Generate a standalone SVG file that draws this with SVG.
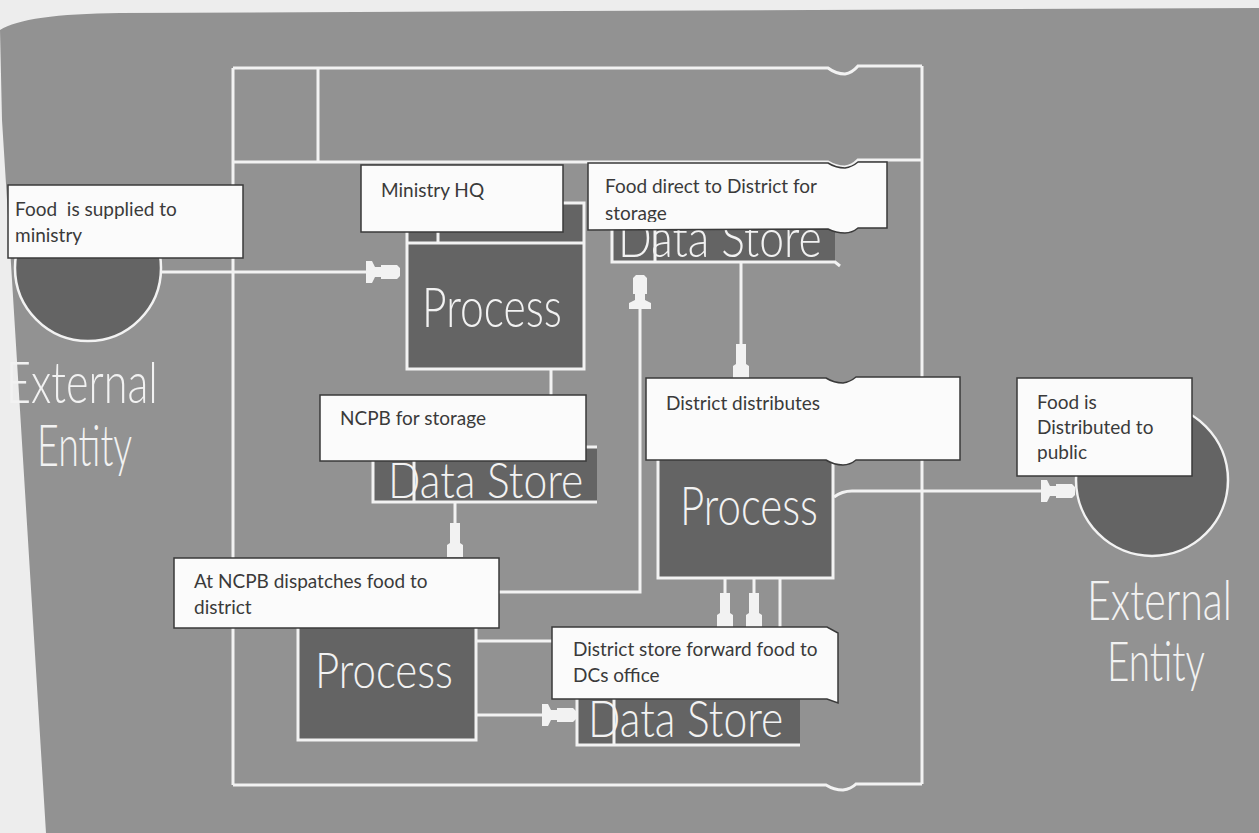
<svg xmlns="http://www.w3.org/2000/svg" width="1259" height="833" viewBox="0 0 1259 833">
<defs>
<style>
.ln{fill:none;stroke:#f2f2f2;stroke-width:3}
.dk{fill:#646464}
.wb{fill:none;stroke:#f2f2f2;stroke-width:3}
.big{font-family:Lato,"Liberation Sans",sans-serif;font-weight:300;fill:#f2f2f2}
.lb{fill:#fbfbfb;stroke:#3a3a3a;stroke-width:1.5}
.lt{font-family:Lato,"Open Sans",sans-serif;font-size:19px;fill:#3a3a3a;white-space:pre}
</style>
<marker id="aT" viewBox="-35 -12 36 24" markerWidth="36" markerHeight="24" refX="0" refY="0" orient="auto" markerUnits="userSpaceOnUse">
<path d="M0,-4 L-3,-7 L-19,-7 L-19,-5 L-25,-5 L-28,-11 L-34,-11 L-34,11 L-28,11 L-25,5 L-19,5 L-19,7 L-3,7 L0,4 Z" fill="#f2f2f2"/>
</marker>
<marker id="aH" viewBox="-35 -12 36 24" markerWidth="36" markerHeight="24" refX="0" refY="0" orient="auto" markerUnits="userSpaceOnUse">
<path d="M0,-8 L-12,-8 L-14,-5 L-34,-5 L-34,5 L-14,5 L-12,8 L0,8 Z" fill="#f2f2f2"/>
</marker>
<clipPath id="c3"><rect x="588" y="160" width="300" height="62"/></clipPath>
<clipPath id="cds1"><rect x="600" y="229" width="260" height="40"/></clipPath>
</defs>

<rect width="1259" height="833" fill="#ededed"/>
<path d="M0,30 Q25,14 120,13 L1259,8 L1259,833 L46,833 L12,280 L2,120 Z" fill="#929292"/>

<g id="frame" class="ln">
<path d="M233,68 H828 Q836,74 845,74 Q852,73 858,66 H922"/>
<path d="M233,162 H828 Q836,167 845,167 Q852,166 858,160 H922"/>
<path d="M233,785 H826 Q834,790 843,790 Q851,789 856,784 H922"/>
<path d="M233,68 V785"/>
<path d="M922,66 V784"/>
<path d="M318,68 V162"/>
</g>

<g id="connectors">
<path class="ln" d="M160,272 H400" marker-end="url(#aT)"/>
<path class="ln" d="M551,369 V395"/>
<path class="ln" d="M741,262 V378" marker-end="url(#aH)"/>
<path class="ln" d="M499,592 H640 V275" marker-end="url(#aT)"/>
<path class="ln" d="M455,502 V557" marker-end="url(#aH)"/>
<path class="ln" d="M476,641 H552"/>
<path class="ln" d="M476,715 H576" marker-end="url(#aT)"/>
<path class="ln" d="M725,578 V627" marker-end="url(#aH)"/>
<path class="ln" d="M754,578 V627" marker-end="url(#aH)"/>
<path class="ln" d="M780,578 V627"/>
<path class="ln" d="M834,497 Q842,491 852,491 H1075" marker-end="url(#aT)"/>
</g>

<g id="entity-left">
<circle cx="88" cy="268" r="73" class="dk" stroke="#f2f2f2" stroke-width="2.5"/>
<text class="big" transform="translate(6,403) scale(0.7,1)" font-size="57" textLength="217" lengthAdjust="spacingAndGlyphs">External</text>
<text class="big" transform="translate(37,466) scale(0.7,1)" font-size="57" textLength="136" lengthAdjust="spacingAndGlyphs">Entity</text>
</g>

<g id="entity-right">
<circle cx="1152" cy="480" r="76" class="dk" stroke="#f2f2f2" stroke-width="2.5"/>
<text class="big" transform="translate(1087,620) scale(0.7,1)" font-size="56" textLength="207" lengthAdjust="spacingAndGlyphs">External</text>
<text class="big" transform="translate(1107,681) scale(0.7,1)" font-size="55" textLength="140" lengthAdjust="spacingAndGlyphs">Entity</text>
</g>

<g id="process-ministry">
<rect class="dk" x="407" y="203" width="177" height="166"/>
<rect class="wb" x="407" y="203" width="177" height="166"/>
<path class="ln" d="M407,243 H584 M438,203 V243"/>
<text class="big" transform="translate(422,327) scale(0.7,1)" font-size="56" textLength="200" lengthAdjust="spacingAndGlyphs">Process</text>
</g>

<g id="store-district">
<rect class="dk" x="612" y="215" width="223" height="47"/>
<path class="ln" d="M612,215 V262 H835 L840,266 M655,215 V262"/>
<g clip-path="url(#cds1)">
<text class="big" transform="translate(618,257) scale(0.7,1)" font-size="54" textLength="291" lengthAdjust="spacingAndGlyphs">Data Store</text>
</g>
</g>

<g id="store-ncpb">
<rect class="dk" x="373" y="447" width="224" height="55"/>
<path class="ln" d="M597,447 H373 V502 H597 M414,447 V502"/>
<text class="big" transform="translate(388,498) scale(0.7,1)" font-size="49" textLength="279" lengthAdjust="spacingAndGlyphs">Data Store</text>
</g>

<g id="process-district">
<rect class="dk" x="658" y="440" width="175" height="138"/>
<rect class="wb" x="658" y="440" width="175" height="138"/>
<text class="big" transform="translate(680,525) scale(0.7,1)" font-size="53" textLength="197" lengthAdjust="spacingAndGlyphs">Process</text>
</g>

<g id="process-ncpb">
<rect class="dk" x="298" y="600" width="178" height="140"/>
<rect class="wb" x="298" y="600" width="178" height="140"/>
<text class="big" transform="translate(315,688) scale(0.7,1)" font-size="50" textLength="197" lengthAdjust="spacingAndGlyphs">Process</text>
</g>

<g id="store-dc">
<rect class="dk" x="577" y="697" width="223" height="48"/>
<path class="ln" d="M577,697 V745 H800 M614,697 V745"/>
<text class="big" transform="translate(588,737) scale(0.7,1)" font-size="51" textLength="279" lengthAdjust="spacingAndGlyphs">Data Store</text>
</g>

<g id="label-supplied">
<rect class="lb" x="8" y="185" width="235" height="73"/>
<text class="lt" x="15" y="216">Food  is supplied to</text>
<text class="lt" x="15" y="242">ministry</text>
</g>

<g id="label-hq">
<rect class="lb" x="361" y="165" width="202" height="67"/>
<text class="lt" x="381" y="197">Ministry HQ</text>
</g>

<g id="label-direct">
<path class="lb" d="M588,163 L828,163 Q836,168 845,168 Q852,167 858,162 L887,162 L887,228 L858,228 Q852,233 845,233 Q836,233 828,229 L588,230 Z"/>
<text class="lt" x="605" y="193">Food direct to District for</text>
<text class="lt" x="605" y="220" clip-path="url(#c3)">storage</text>
</g>

<g id="label-ncpb">
<rect class="lb" x="320" y="395" width="266" height="66"/>
<text class="lt" x="340" y="425">NCPB for storage</text>
</g>

<g id="label-distributes">
<path class="lb" d="M646,378 L826,378 Q834,383 843,383 Q850,382 856,377 L960,377 L960,460 L856,460 Q850,465 843,465 Q834,465 826,460 L646,460 Z"/>
<text class="lt" x="666" y="410">District distributes</text>
</g>

<g id="label-public">
<rect class="lb" x="1017" y="378" width="175" height="98"/>
<text class="lt" x="1037" y="409">Food is</text>
<text class="lt" x="1037" y="434">Distributed to</text>
<text class="lt" x="1037" y="459">public</text>
</g>

<g id="label-dispatch">
<rect class="lb" x="174" y="558" width="325" height="70"/>
<text class="lt" x="194" y="588">At NCPB dispatches food to</text>
<text class="lt" x="194" y="614">district</text>
</g>

<g id="label-forward">
<path class="lb" d="M552,627 H827 L838,633 V703 L827,699 H552 Z"/>
<text class="lt" x="573" y="656">District store forward food to</text>
<text class="lt" x="573" y="682">DCs office</text>
</g>
</svg>
